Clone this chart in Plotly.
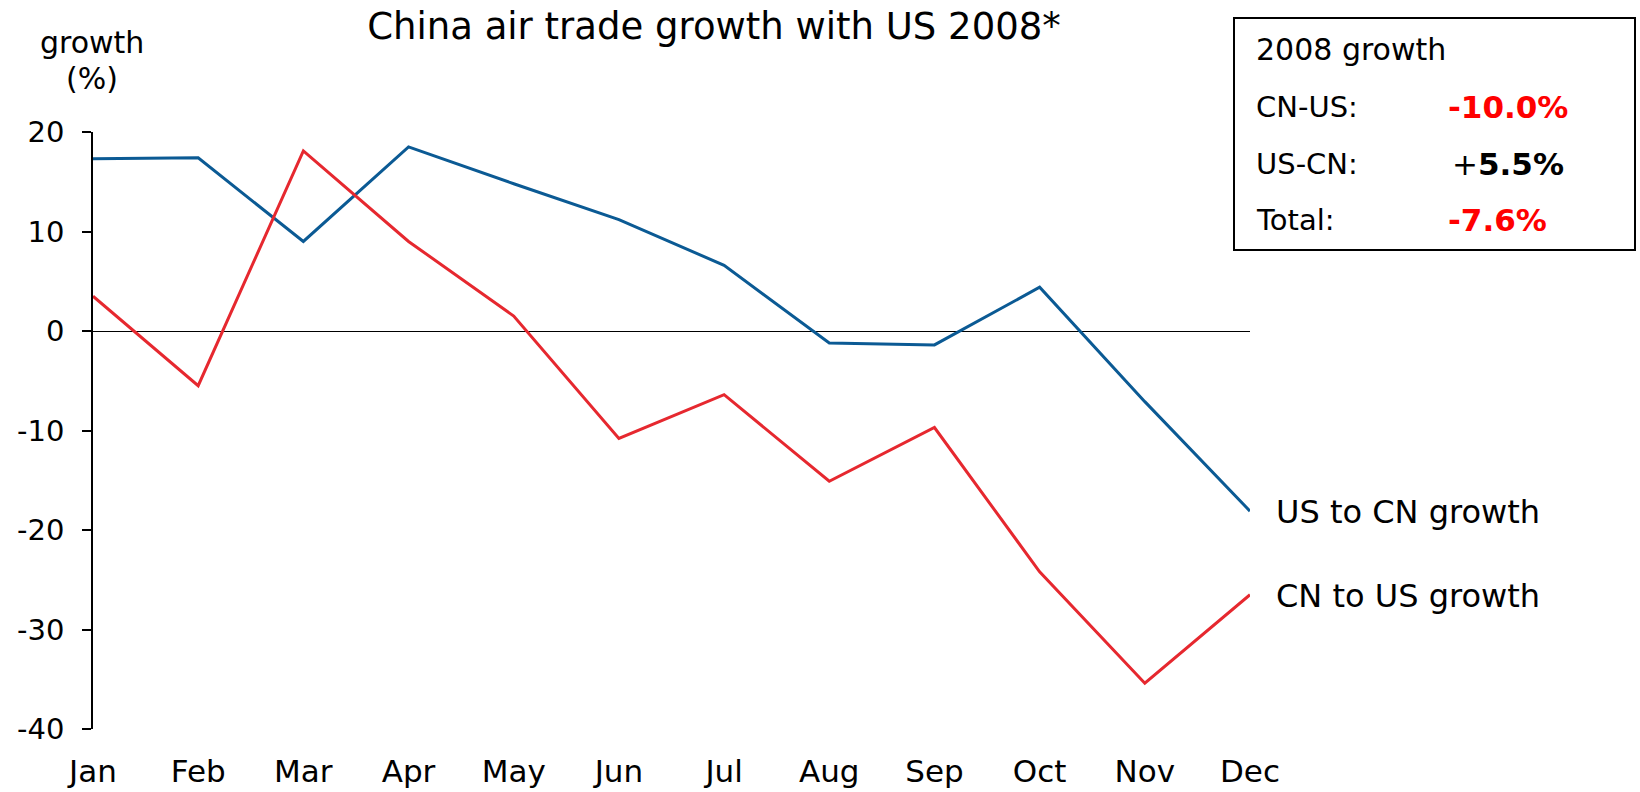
import plotly.graph_objects as go

months = ["Jan", "Feb", "Mar", "Apr", "May", "Jun", "Jul", "Aug", "Sep", "Oct", "Nov", "Dec"]
us_to_cn = [17.3, 17.4, 9.0, 18.5, 14.8, 11.2, 6.6, -1.2, -1.4, 4.4, -7.1, -18.1]
cn_to_us = [3.5, -5.5, 18.1, 9.0, 1.5, -10.8, -6.4, -15.1, -9.7, -24.2, -35.4, -26.5]
y_ticks = [20, 10, 0, -10, -20, -30, -40]
y_ticktext = [str(v) for v in y_ticks]
series_names = ["US to CN growth", "CN to US growth"]
box_rows = ["2008 growth", "CN-US:", "US-CN:", "Total:"]
box_values = ["-10.0%", "+5.5%", "-7.6%"]

BLUE = "#0B5A94"
RED = "#E6282F"
FONT = "DejaVu Sans, Verdana, sans-serif"

W, H = 1640, 792
L, R, T, B = 93, 390, 132, 63

fig = go.Figure()
fig.add_trace(go.Scatter(x=months, y=us_to_cn, mode="lines", name=series_names[0],
                         line=dict(color=BLUE, width=3), showlegend=False))
fig.add_trace(go.Scatter(x=months, y=cn_to_us, mode="lines", name=series_names[1],
                         line=dict(color=RED, width=3), showlegend=False))

fig.update_layout(
    width=W, height=H,
    margin=dict(l=L, r=R, t=T, b=B, autoexpand=False),
    paper_bgcolor="white", plot_bgcolor="white",
    font=dict(family=FONT, size=29, color="black"),
    title=dict(text="China air trade growth with US 2008*", x=714 / W, xanchor="center",
               y=1 - 26 / H, yanchor="middle", font=dict(size=37, family=FONT)),
)
fig.update_xaxes(
    type="category", range=[0, 11], showline=False, showgrid=False, zeroline=False,
    ticks="", tickfont=dict(family=FONT, size=31),
    ticklabelstandoff=21,
)
fig.update_yaxes(
    range=[-40, 20], tickvals=y_ticks, ticktext=y_ticktext, showgrid=False, showline=True,
    linecolor="black", linewidth=1.5, ticks="outside", ticklen=9, tickwidth=1.5,
    tickcolor="black", zeroline=True, zerolinecolor="black", zerolinewidth=1.2,
    ticklabelstandoff=12, tickfont=dict(size=29, family=FONT),
)

pw, ph = W - L - R, H - T - B
def px(x):
    return (x - L) / pw
def py(y):
    return (H - B - y) / ph

# y-axis title
for txt, yy in zip(["growth", "(%)"], [42, 78]):
    fig.add_annotation(text=txt, xref="paper", yref="paper", x=px(92), y=py(yy),
                       xanchor="center", yanchor="middle", showarrow=False,
                       font=dict(size=30, family=FONT))

# series labels at line ends
fig.add_annotation(text=series_names[0], x=months[-1], y=us_to_cn[-1], xanchor="left",
                   yanchor="middle", xshift=24, yshift=-1, showarrow=False,
                   font=dict(size=32, family=FONT))
fig.add_annotation(text=series_names[1], x=months[-1], y=cn_to_us[-1], xanchor="left",
                   yanchor="middle", xshift=24, yshift=-1, showarrow=False,
                   font=dict(size=32, family=FONT))

# summary box
fig.add_shape(type="rect", xref="paper", yref="paper",
              x0=px(1234), x1=px(1635), y0=py(250), y1=py(18),
              line=dict(color="black", width=2), fillcolor="white", layer="above")
row_y = [49, 107, 164, 220]
for txt, yy in zip(box_rows, row_y):
    fig.add_annotation(text=txt, xref="paper", yref="paper", x=px(1254), y=py(yy),
                       xanchor="left", yanchor="middle", showarrow=False,
                       font=dict(size=30 if txt == box_rows[0] else 29, family=FONT))
val_colors = ["#FF0000", "black", "#FF0000"]
for val, col, yy in zip(box_values, val_colors, row_y[1:]):
    if val.startswith("+"):
        txt = "+<b>" + val[1:] + "</b>"
        x0 = 1450
    else:
        txt = "<b>" + val + "</b>"
        x0 = 1446
    fig.add_annotation(text=txt, xref="paper", yref="paper", x=px(x0), y=py(yy),
                       xanchor="left", yanchor="middle", showarrow=False,
                       font=dict(size=31, family=FONT, color=col))

fig.write_html("out.html", config={"displayModeBar": False},
               post_script="document.body.style.margin='0';")
